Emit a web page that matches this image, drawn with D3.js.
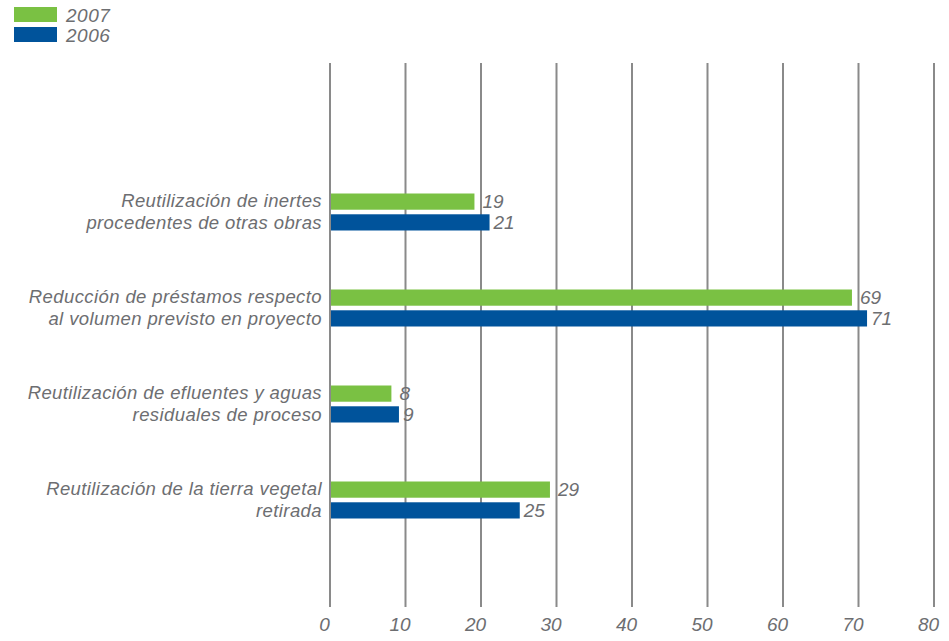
<!DOCTYPE html>
<html><head><meta charset="utf-8">
<script src="https://cdn.jsdelivr.net/npm/d3@7"></script>
<style>
body{margin:0;background:#fff;}
text{font-family:"Liberation Sans",Arial,sans-serif;font-style:italic;fill:#6d6e71;}
</style></head>
<body><svg id="c" width="949" height="641"></svg>
<script>
const categories = [
  ["Reutilización de inertes","procedentes de otras obras"],
  ["Reducción de préstamos respecto","al volumen previsto en proyecto"],
  ["Reutilización de efluentes y aguas","residuales de proceso"],
  ["Reutilización de la tierra vegetal","retirada"]
];
const series2007 = [19, 69, 8, 29];
const series2006 = [21, 71, 9, 25];
const seriesNames = ["2007","2006"];
const colors = ["#7ac143","#00539b"];
const ticks = [0,10,20,30,40,50,60,70,80];

const svg = d3.select("#c");
const x = d3.scaleLinear().domain([0,80]).range([330,934]);
const y = d3.scaleBand().domain(d3.range(categories.length)).range([164,548]);
const sub = d3.scaleBand().domain([0,1]).range([-18.5,18.5]).paddingInner(0.22);

// gridlines
svg.append("g").selectAll("line").data(ticks).join("line")
  .attr("x1",d=>x(d)).attr("x2",d=>x(d)).attr("y1",63).attr("y2",607)
  .attr("stroke","#8a8a8a").attr("stroke-width",2);
const ax = d3.axisBottom(x).tickValues(ticks).tickSize(0).tickPadding(0);
const axg = svg.append("g").attr("transform","translate(-6,617)").call(ax);
axg.select(".domain").remove();
axg.selectAll("text").attr("font-size",19).attr("dy","0.71em")
  .style("font-family",'"Liberation Sans",Arial,sans-serif').style("fill","#6d6e71");

const data = [series2007, series2006];
const dxs = [9, 5];
data.forEach((vals,si)=>{
  svg.append("g").selectAll("rect").data(vals).join("rect")
    .attr("x",x(0)+1).attr("y",(d,i)=>y(i)+y.bandwidth()/2+sub(si))
    .attr("width",d=>x(d)-x(0)).attr("height",sub.bandwidth())
    .attr("fill",colors[si]);
  svg.append("g").selectAll("text").data(vals).join("text")
    .attr("x",d=>x(d)+dxs[si]).attr("y",(d,i)=>y(i)+y.bandwidth()/2+sub(si)+sub.bandwidth()/2)
    .attr("dy","0.36em").attr("font-size",19).text(d=>d);
});

// category labels
categories.forEach((lines,i)=>{
  const t = svg.append("text").attr("text-anchor","end").attr("font-size",18.5)
    .attr("letter-spacing",0.4)
    .attr("x",322).attr("y",y(i)+y.bandwidth()/2-5);
  lines.forEach((l,k)=>t.append("tspan").attr("x",322).attr("dy",k?21.5:0).text(l));
});

// legend
seriesNames.forEach((n,i)=>{
  svg.append("rect").attr("x",14).attr("y",7+i*20).attr("width",43).attr("height",15).attr("fill",colors[i]);
  svg.append("text").attr("x",66).attr("y",15+i*20).attr("dy","0.36em").attr("font-size",19).attr("letter-spacing",0.5).text(n);
});
</script></body></html>
